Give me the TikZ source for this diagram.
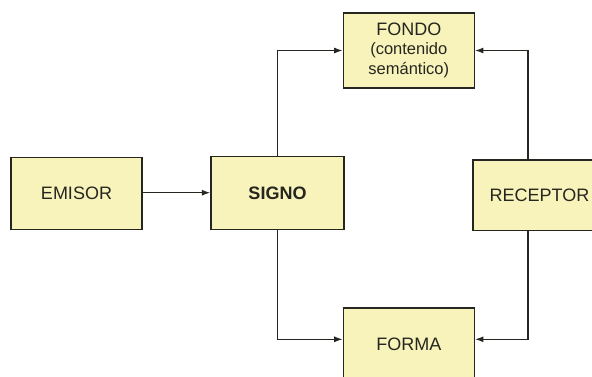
\documentclass[tikz,border=0pt]{standalone}
\usepackage{fontspec}
\setmainfont{Liberation Sans}
\usetikzlibrary{arrows.meta}
\definecolor{boxfill}{RGB}{247,243,186}
\definecolor{ink}{RGB}{38,38,32}
\tikzset{
  box/.style={draw=ink, line width=1.3pt, fill=boxfill, inner sep=0pt,
    text=ink, font=\fontsize{18}{20}\selectfont, align=center},
  arr/.style={draw=ink, line width=1.3pt, -{Latex[length=8.5pt,width=6pt]}}
}
\begin{document}
\begin{tikzpicture}[x=1pt,y=-1pt]
\useasboundingbox (0,0) rectangle (592,376);
\clip (0,0) rectangle (592,376);
\fill[white] (0,0) rectangle (592,376);
\node[box, minimum width=131pt, minimum height=71.6pt] (emisor) at (76.5,193.5) {EMISOR};
\node[box, minimum width=133pt, minimum height=72.6pt, font=\fontsize{18}{20}\selectfont\bfseries] (signo) at (277.5,193) {SIGNO};
\node[box, minimum width=131pt, minimum height=75pt] (fondo) at (408.8,50.5)
  {FONDO\\[-1pt]{\fontsize{16.5}{20}\selectfont (contenido}\\{\fontsize{16.5}{20}\selectfont semántico)}};
\node[box, minimum width=133pt, minimum height=70.7pt] (receptor) at (539.5,195.3) {RECEPTOR};
\node[box, minimum width=131pt, minimum height=72pt] (forma) at (408.8,344) {FORMA};

\draw[arr] ([yshift=0.8pt]emisor.east) -- ([yshift=0.8pt]emisor.east -| signo.west);
\draw[arr] (signo.north) |- (fondo.west);
\draw[arr] ([xshift=-11.5pt]receptor.north) |- (fondo.east);
\draw[arr] (signo.south) |- ([yshift=4.7pt]forma.west);
\draw[arr] ([xshift=-11.5pt]receptor.south) |- ([yshift=4.7pt]forma.east);
\end{tikzpicture}
\end{document}
